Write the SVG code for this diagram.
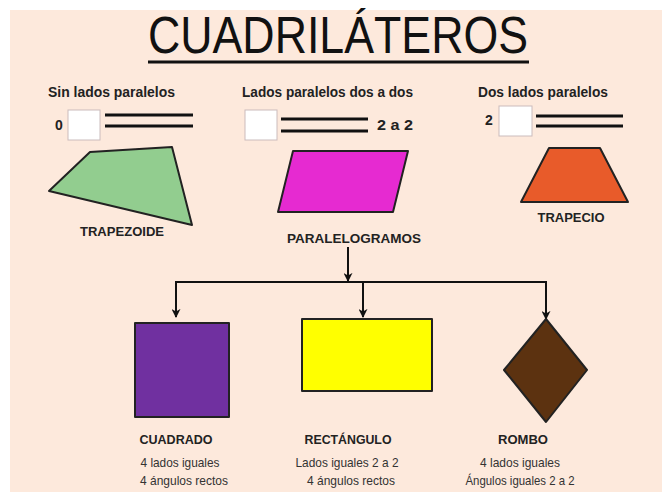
<svg xmlns="http://www.w3.org/2000/svg" width="663" height="492" viewBox="0 0 663 492">
<defs>
<marker id="ah" viewBox="0 0 10 10" refX="9" refY="5" markerWidth="9" markerHeight="9" markerUnits="userSpaceOnUse" orient="auto">
<path d="M0,0 L10,5 L0,10 L3,5 Z" fill="#111"/>
</marker>
<style>
.h{font-family:"Liberation Sans",Arial,sans-serif;font-weight:bold;font-size:14px;fill:#222}
.b{font-family:"Liberation Sans",Arial,sans-serif;font-weight:bold;font-size:13px;fill:#222}
.s{font-family:"Liberation Sans",Arial,sans-serif;font-size:13px;fill:#333}
.box{fill:#fff;stroke:#cbbcbc;stroke-width:1}
.par{stroke:#111;stroke-width:3}
.shape{stroke:#222;stroke-width:2;stroke-linejoin:round}
.con{stroke:#111;stroke-width:2;fill:none}
</style>
</defs>
<rect width="663" height="492" fill="#fff"/>
<rect x="10" y="10" width="652" height="482" fill="#fde9dc"/>

<g id="title">
<text x="148" y="53" font-family="Liberation Sans, Arial, sans-serif" font-size="51" fill="#111" textLength="380" lengthAdjust="spacingAndGlyphs">CUADRILÁTEROS</text>
<line x1="148" y1="62" x2="529" y2="62" stroke="#111" stroke-width="3"/>
</g>

<g id="trapezoide">
<text class="h" x="48" y="97" textLength="127" lengthAdjust="spacingAndGlyphs">Sin lados paralelos</text>
<text class="h" x="55" y="130">0</text>
<rect class="box" x="68" y="110" width="32" height="30"/>
<line class="par" x1="105" y1="115" x2="193" y2="115"/>
<line class="par" x1="105" y1="126" x2="193" y2="126"/>
<polygon class="shape" points="90,152 172,147 192,225 49,191" fill="#92cd8f"/>
<text class="b" x="122" y="236" text-anchor="middle" textLength="84" lengthAdjust="spacingAndGlyphs">TRAPEZOIDE</text>
</g>

<g id="paralelogramos">
<text class="h" x="242" y="97" textLength="171" lengthAdjust="spacingAndGlyphs">Lados paralelos dos a dos</text>
<rect class="box" x="245" y="110" width="32" height="30"/>
<line class="par" x1="281" y1="119" x2="368" y2="119"/>
<line class="par" x1="281" y1="131" x2="368" y2="131"/>
<text class="h" x="377" y="130" textLength="36" lengthAdjust="spacingAndGlyphs">2 a 2</text>
<polygon class="shape" points="293,151 408,151 393,212 278,212" fill="#e62ad1"/>
<text class="b" x="354" y="243" text-anchor="middle" textLength="134" lengthAdjust="spacingAndGlyphs">PARALELOGRAMOS</text>
</g>

<g id="trapecio">
<text class="h" x="478" y="97" textLength="130" lengthAdjust="spacingAndGlyphs">Dos lados paralelos</text>
<text class="h" x="485" y="125">2</text>
<rect class="box" x="499" y="106" width="33" height="30"/>
<line class="par" x1="536" y1="116" x2="623" y2="116"/>
<line class="par" x1="536" y1="126" x2="623" y2="126"/>
<polygon class="shape" points="549,148 600,148 628,202 521,202" fill="#e85b2a"/>
<text class="b" x="571" y="222" text-anchor="middle" textLength="67" lengthAdjust="spacingAndGlyphs">TRAPECIO</text>
</g>

<g id="connectors">
<line class="con" x1="348" y1="247" x2="348" y2="281" marker-end="url(#ah)"/>
<line class="con" x1="175" y1="282" x2="547" y2="282"/>
<line class="con" x1="176" y1="282" x2="176" y2="317" marker-end="url(#ah)"/>
<line class="con" x1="363" y1="282" x2="363" y2="317" marker-end="url(#ah)"/>
<line class="con" x1="546" y1="282" x2="546" y2="319" marker-end="url(#ah)"/>
</g>

<g id="cuadrado">
<rect class="shape" x="135" y="323" width="94" height="94" fill="#7030a0"/>
<text class="b" x="176" y="444" text-anchor="middle" textLength="73" lengthAdjust="spacingAndGlyphs">CUADRADO</text>
<text class="s" x="180" y="467" text-anchor="middle" textLength="79" lengthAdjust="spacingAndGlyphs">4 lados iguales</text>
<text class="s" x="184" y="485" text-anchor="middle" textLength="88" lengthAdjust="spacingAndGlyphs">4 ángulos rectos</text>
</g>

<g id="rectangulo">
<rect class="shape" x="302" y="319" width="130" height="72" fill="#ffff00"/>
<text class="b" x="348" y="444" text-anchor="middle" textLength="87" lengthAdjust="spacingAndGlyphs">RECTÁNGULO</text>
<text class="s" x="347" y="467" text-anchor="middle" textLength="103" lengthAdjust="spacingAndGlyphs">Lados iguales 2 a 2</text>
<text class="s" x="351" y="485" text-anchor="middle" textLength="88" lengthAdjust="spacingAndGlyphs">4 ángulos rectos</text>
</g>

<g id="rombo">
<polygon class="shape" points="546,319 587,370 546,422 504,370" fill="#5c3210"/>
<text class="b" x="523" y="444" text-anchor="middle" textLength="50" lengthAdjust="spacingAndGlyphs">ROMBO</text>
<text class="s" x="520" y="467" text-anchor="middle" textLength="80" lengthAdjust="spacingAndGlyphs">4 lados iguales</text>
<text class="s" x="520" y="485" text-anchor="middle" textLength="109" lengthAdjust="spacingAndGlyphs">Ángulos iguales 2 a 2</text>
</g>
</svg>
